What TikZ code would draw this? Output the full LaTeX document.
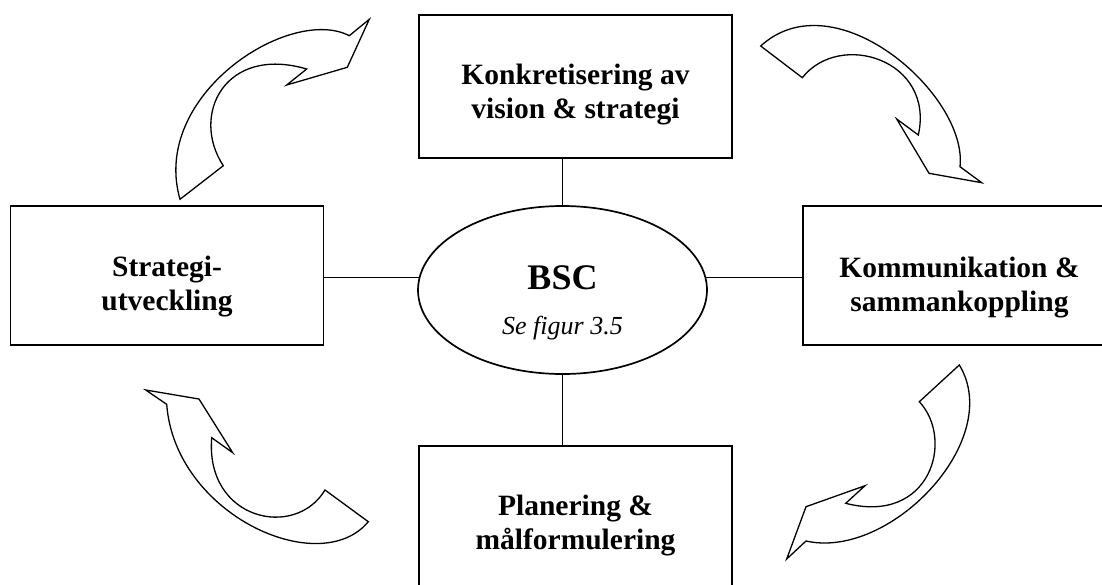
\documentclass[tikz,border=0pt]{standalone}
\usepackage{fontspec}
\setmainfont{Liberation Serif}
\usetikzlibrary{shapes.geometric}

\begin{document}
\begin{tikzpicture}[x=1pt,y=-1pt,
  box/.style={draw,line width=1.4pt,rectangle,minimum width=313pt,minimum height=143pt,inner sep=0pt},
  sidebox/.style={box,minimum height=139pt},
  boxtext/.style={font=\fontsize{29.5}{34}\selectfont\bfseries,align=center,inner sep=0pt},
  link/.style={line width=1.3pt},
  bendarrow/.style={draw,line width=1.3pt,line join=miter}]

\useasboundingbox (0,0) rectangle (1102,584);
\clip (0,0) rectangle (1102,584);

% the four process boxes
\node[box] (vision) at (575.5,86.5) {};
\node[boxtext] (visiontext) at ([yshift=-8.5pt]vision.center) {Konkretisering av\\vision \& strategi};

\node[sidebox] (strat) at (167,275.5) {};
\node[boxtext] (strattext) at (167,287) {Strategi-\\utveckling};

\node[sidebox] (komm) at (959.5,275.5) {};
\node[boxtext] (kommtext) at (959.5,288) {Kommunikation \&\\sammankoppling};

\node[box] (mal) at (575.5,517.5) {};
\node[boxtext] (maltext) at ([yshift=-8.5pt]mal.center) {Planering \&\\målformulering};

% central ellipse
\node[ellipse,draw,line width=1.7pt,minimum width=289pt,minimum height=168pt,inner sep=0pt] (bsc) at (562.5,290) {};
\node[font=\fontsize{36}{40}\selectfont\bfseries,inner sep=0pt] (bsctitle) at ([yshift=12pt]bsc.center) {BSC};
\node[font=\fontsize{26}{30}\selectfont\itshape,inner sep=0pt] (bscref) at ([yshift=-38pt]bsc.center) {Se figur 3.5};

% connectors between the ellipse and the boxes
\draw[link] (bsc.center |- vision.south) -- (bsc.north);
\draw[link] (bsc.south) -- (bsc.center |- mal.north);
\draw[link] (bsc.175) -- (bsc.175 -| strat.east);
\draw[link] (bsc.5) -- (bsc.5 -| komm.west);

% curved block arrows running clockwise around the cycle
% upper left
\draw[bendarrow] (180,199.3) -- (223.3,165.7)
  .. controls (190,115) and (225,45) .. (306.7,69)
  -- (286.7,85) -- (347.3,67.3) -- (369.3,19.3) -- (349.3,35.7)
  .. controls (290,5) and (150,95) .. (180,199.3) -- cycle;
% upper right
\draw[bendarrow] (760.7,46) -- (802.3,77.7)
  .. controls (840,30) and (935,60) .. (918.3,135)
  -- (896.7,119) -- (929,173.3) -- (981.7,182.7) -- (960,166.7)
  .. controls (968,95) and (835,-22) .. (760.7,46) -- cycle;
% lower right
\draw[bendarrow] (959.3,365) -- (919.3,401.7)
  .. controls (955,440) and (930,525) .. (845.7,503.3)
  -- (865,485.7) -- (806,506.7) -- (786.7,559) -- (806,541)
  .. controls (890,560) and (1005,440) .. (959.3,365) -- cycle;
% lower left
\draw[bendarrow] (145.7,390) -- (199,399) -- (232.7,452.7) -- (211.7,437.7)
  .. controls (205,520) and (295,540) .. (325,490)
  -- (368.3,521.7)
  .. controls (320,580) and (175,515) .. (166.7,404.3) -- cycle;

\end{tikzpicture}
\end{document}
